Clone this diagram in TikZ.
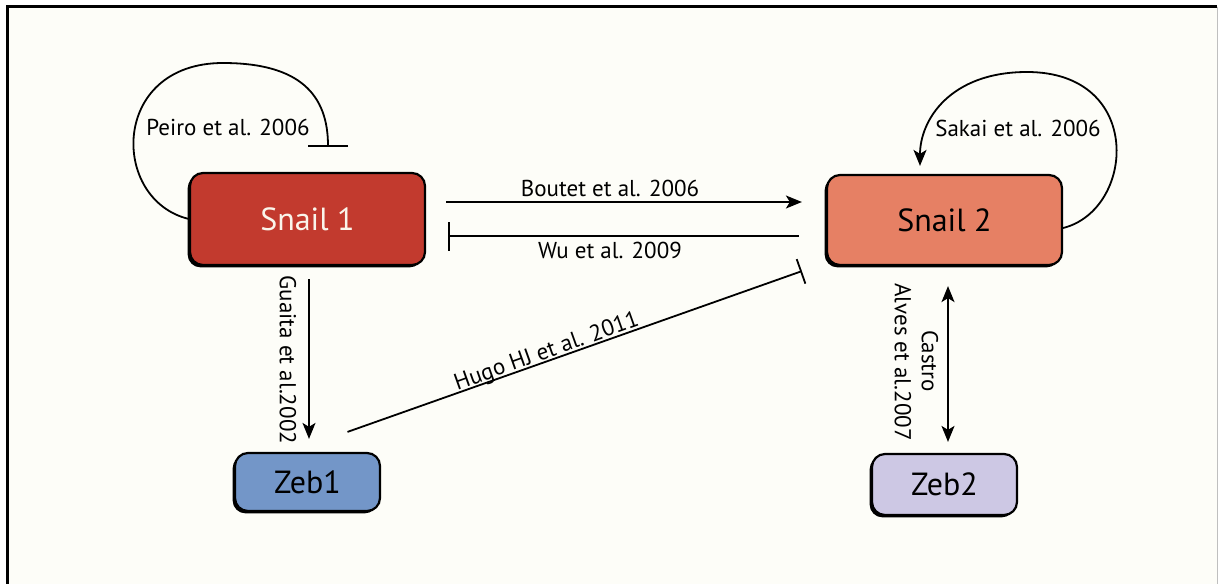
\documentclass[tikz,border=0pt]{standalone}
\usepackage{fontspec}
\setmainfont{PT Sans}
\usetikzlibrary{arrows.meta,calc,shadows}
\definecolor{bgc}{RGB}{253,253,248}
\definecolor{snaila}{RGB}{194,58,46}
\definecolor{snailb}{RGB}{230,128,100}
\definecolor{zeba}{RGB}{115,150,200}
\definecolor{zebb}{RGB}{205,200,228}
\definecolor{lighttext}{RGB}{250,245,235}
\begin{document}
\begin{tikzpicture}[x=1pt,y=-1pt,
  genebox/.style={rectangle, rounded corners=13pt, draw=black, line width=2.2pt,
    inner sep=0pt, font=\fontsize{32}{36}\selectfont, text height=22pt, text depth=0pt,
    general shadow={fill=black, shadow xshift=-2.4pt, shadow yshift=-2.4pt}},
  cite/.style={font=\fontsize{23}{26}\selectfont, inner sep=0pt, text height=16.5pt, text depth=0pt},
  conn/.style={line width=1.8pt},
  tip/.style={-{Stealth[length=16pt,width=13pt,inset=4pt]}},
  dtip/.style={{Stealth[length=16pt,width=13pt,inset=4pt]}-{Stealth[length=16pt,width=13pt,inset=4pt]}},
]
\useasboundingbox (0,0) rectangle (1219,584);
\fill[white] (0,0) rectangle (1219,584);
\fill[bgc] (7,6) rectangle (1218,584);
\draw[line width=2.5pt] (7.5,584) -- (7.5,6.5) -- (1217,6.5);
\draw[gray!50, line width=1pt] (1217.5,6.5) -- (1217.5,584);

% gene boxes
\node[genebox, fill=snaila, text=lighttext, minimum width=235pt, minimum height=92pt] (s1) at (307.5,219) {Snail 1};
\node[genebox, fill=snailb, minimum width=235pt, minimum height=90pt] (s2) at (944.5,220) {Snail 2};
\node[genebox, fill=zeba, minimum width=145pt, minimum height=58pt] (z1) at (307.5,482) {Zeb1};
\node[genebox, fill=zebb, minimum width=145pt, minimum height=61pt] (z2) at (944.5,484.5) {Zeb2};

% Snail1 -> Snail2 (Boutet)
\draw[conn, tip] ([xshift=20pt,yshift=17pt]s1.east) -- ([xshift=-24pt,yshift=18pt]s2.west);
\node[cite] (boutet) at (610,188) {Boutet et al. 2006};

% Snail2 -| Snail1 (Wu)
\draw[conn, -{Bar[width=29pt,line width=1.8pt]}] ([xshift=-27pt,yshift=-16pt]s2.west) -- ([xshift=22pt,yshift=-17pt]s1.east);
\node[cite] (wu) at (610,250) {Wu et al. 2009};

% Zeb1 -| Snail2 (Hugo)
\draw[conn, -{Bar[width=26pt,line width=1.8pt]}] ([xshift=40pt,yshift=20pt]z1.north) -- ([xshift=-24pt,yshift=-5pt]s2.south west);
\node[cite, rotate=19.67] (hugo) at (546,350) {Hugo HJ et al. 2011};

% Snail1 -> Zeb1 (Guaita)
\draw[conn, tip] ([xshift=1.5pt,yshift=-13pt]s1.south) -- ([xshift=1.5pt,yshift=13pt]z1.north);
\node[cite, rotate=-90] (guaita) at (288,360) {Guaita et al.2002};

% Snail2 <-> Zeb2 (Castro Alves)
\draw[conn, dtip] ([xshift=3.5pt,yshift=-20pt]s2.south) -- ([xshift=3.5pt,yshift=11pt]z2.north);
\node[cite, rotate=-90] (castro) at (930,361) {Castro};
\node[cite, rotate=-90] (alves) at (903,362) {Alves et al.2007};

% Snail1 self-inhibition (Peiro)
\draw[conn, -{Bar[width=40pt,line width=1.8pt]}] (s1.west) .. controls (110,200) and (110,63) .. (223,63) .. controls (300,63) and (328,95) .. (328,147);
\node[cite] (peiro) at (228,127) {Peiro et al. 2006};

% Snail2 self-activation (Sakai)
\draw[conn, tip] ([yshift=-8pt]s2.east) .. controls (1135,210) and (1145,72) .. (1027,72) .. controls (950,72) and (920,120) .. ([xshift=-24.5pt,yshift=8pt]s2.north);
\node[cite] (sakai) at (1018,128) {Sakai et al. 2006};
\end{tikzpicture}
\end{document}
